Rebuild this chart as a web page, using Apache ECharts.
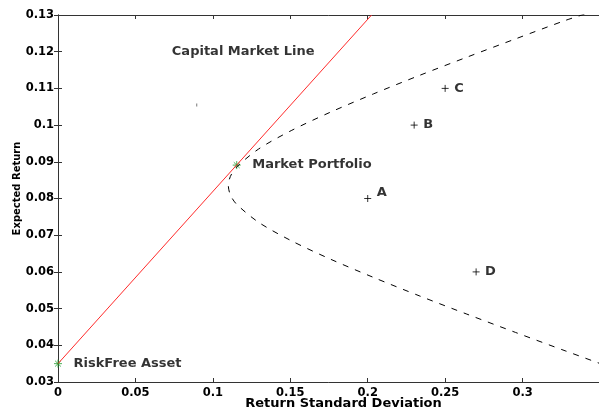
<!DOCTYPE html>
<html>
<head>
<meta charset="utf-8">
<script src="https://cdn.jsdelivr.net/npm/echarts@6/dist/echarts.min.js"></script>
<style>
    html, body { margin: 0; padding: 0; background: #fff; }
    #grafico { width: 599px; height: 413px; }
</style>
</head>
<body>
<div id="grafico"></div>
<script>
// === DADOS ===
const cmlSigma = [0, 0.2025];
const cmlReturn = [0.035, 0.13];

// fronteira eficiente (ramo inferior -> ramo superior)
const frontierSigma = [0.3600, 0.3275, 0.2955, 0.2640, 0.2332, 0.2037, 0.1758, 0.1506, 0.1296, 0.1152, 0.1113, 0.1100,
    0.1113, 0.1152, 0.1296, 0.1506, 0.1758, 0.2037, 0.2332, 0.2640, 0.2955, 0.3275, 0.3420];
const frontierReturn = [0.0335, 0.0385, 0.0435, 0.0485, 0.0535, 0.0585, 0.0635, 0.0685, 0.0735, 0.0785, 0.0810, 0.0835,
    0.0860, 0.0885, 0.0935, 0.0985, 0.1035, 0.1085, 0.1135, 0.1185, 0.1235, 0.1285, 0.1305];

const assetNames = ['A', 'B', 'C', 'D'];
const assetSigma = [0.20, 0.23, 0.25, 0.27];
const assetReturn = [0.08, 0.10, 0.11, 0.06];

const specialNames = ['RiskFree Asset', 'Market Portfolio'];
const specialSigma = [0, 0.1154];
const specialReturn = [0.035, 0.0891];

const noteText = 'Capital Market Line';
const notePos = [0.0735, 0.12];
const strayMark = [0.0896, 0.1055];

const xTicks = { min: 0, max: 0.35, interval: 0.05 };
const yTicks = { min: 0.03, max: 0.13, interval: 0.01 };

const zip = (a, b) => a.map((v, i) => [v, b[i]]);

const fonteBold = { fontFamily: 'DejaVu Sans', fontWeight: 'bold', color: '#000' };
const corEixo = '#333';
const asterisco = 'path://M0,-5L0,5M-5,0L5,0M-3.6,-3.6L3.6,3.6M-3.6,3.6L3.6,-3.6';
const mais = 'path://M0,-3L0,3M-3,0L3,0';

const chart = echarts.init(document.getElementById('grafico'));

chart.setOption({
    backgroundColor: '#fff',
    animation: false,
    // a borda direita fica um pixel fora da imagem, como no original
    grid: { left: 58, top: 15, width: 542, height: 367, containLabel: false, outerBoundsMode: 'none' },
    xAxis: [
        {
            type: 'value', position: 'bottom', min: xTicks.min, max: xTicks.max, interval: xTicks.interval,
            name: 'Return Standard Deviation', nameLocation: 'middle', nameGap: 15, nameMoveOverlap: false,
            nameTextStyle: { ...fonteBold, fontSize: 13, padding: [0, 0, 0, 29] },
            axisLine: { lineStyle: { color: corEixo, width: 1 } },
            axisTick: { inside: true, length: 4, lineStyle: { color: corEixo } },
            axisLabel: { ...fonteBold, fontSize: 11.5, margin: 5, showMaxLabel: false },
            splitLine: { show: false }
        },
        {
            type: 'value', position: 'top', min: xTicks.min, max: xTicks.max, interval: xTicks.interval,
            axisLine: { lineStyle: { color: corEixo, width: 1 } },
            axisTick: { inside: true, length: 4, lineStyle: { color: corEixo } },
            axisLabel: { show: false },
            splitLine: { show: false }
        }
    ],
    yAxis: [
        {
            type: 'value', position: 'left', min: yTicks.min, max: yTicks.max, interval: yTicks.interval,
            name: 'Expected Return', nameLocation: 'middle', nameGap: 36, nameMoveOverlap: false,
            nameTextStyle: { ...fonteBold, fontSize: 10, padding: [0, 0, 0, 20] },
            axisLine: { lineStyle: { color: corEixo, width: 1 } },
            axisTick: { inside: true, length: 4, lineStyle: { color: corEixo } },
            axisLabel: { ...fonteBold, fontSize: 11.5, margin: 4 },
            splitLine: { show: false }
        },
        {
            type: 'value', position: 'right', min: yTicks.min, max: yTicks.max, interval: yTicks.interval,
            axisLine: { lineStyle: { color: corEixo, width: 1 } },
            axisTick: { inside: true, length: 4, lineStyle: { color: corEixo } },
            axisLabel: { show: false },
            splitLine: { show: false }
        }
    ],
    series: [
        {
            name: 'Fronteira', type: 'line', data: zip(frontierSigma, frontierReturn),
            smooth: 0.3, showSymbol: false, clip: true,
            lineStyle: { color: '#000', width: 1, type: [6, 7] }
        },
        {
            name: 'CML', type: 'line', data: zip(cmlSigma, cmlReturn),
            showSymbol: false, clip: true,
            lineStyle: { color: '#ff2a2a', width: 1 }
        },
        {
            name: 'Ativos', type: 'scatter', symbol: mais, symbolSize: 7,
            itemStyle: { color: '#000', borderColor: '#000', borderWidth: 1 },
            data: assetNames.map((n, i) => ({
                name: n, value: [assetSigma[i], assetReturn[i]],
                label: n === 'A' ? { offset: [0, -6] } : {}
            })),
            label: { show: true, position: 'right', distance: 5, formatter: '{b}', ...fonteBold, fontSize: 13 }
        },
        {
            name: 'Especiais', type: 'scatter', symbol: asterisco, symbolSize: 8,
            itemStyle: { color: '#1e9e2e', borderColor: '#1e9e2e', borderWidth: 1 },
            data: specialNames.map((n, i) => ({ name: n, value: [specialSigma[i], specialReturn[i]] })),
            label: { show: true, position: 'right', distance: 11, formatter: '{b}', ...fonteBold, fontSize: 13 }
        },
        {
            name: 'Nota', type: 'scatter', symbolSize: 0,
            data: [{ name: noteText, value: notePos }],
            label: { show: true, position: 'right', distance: 0, formatter: '{b}', ...fonteBold, fontSize: 13 }
        },
        {
            name: 'Marca', type: 'scatter', symbol: 'rect', symbolSize: [1, 3],
            itemStyle: { color: '#555' },
            data: [strayMark]
        }
    ]
});
</script>
</body>
</html>
